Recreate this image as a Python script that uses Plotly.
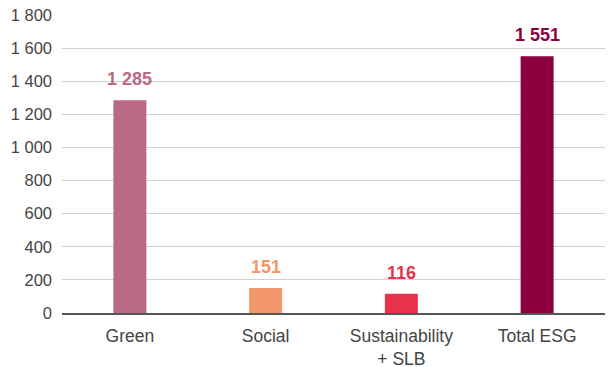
import plotly.graph_objects as go

categories = ["Green", "Social", "Sustainability<br>+ SLB", "Total ESG"]
values = [1285, 151, 116, 1551]
colors = ["#B96A83", "#F2986A", "#E8344A", "#8C0041"]
y_ticks = [0, 200, 400, 600, 800, 1000, 1200, 1400, 1600, 1800]

FONT = "Liberation Sans, Arial, Helvetica, sans-serif"

fig = go.Figure()
fig.add_trace(go.Bar(
    x=categories, y=values, marker=dict(color=colors, line=dict(width=0)),
    hoverinfo="skip",
))
for c, v, col in zip(categories, values, colors):
    fig.add_annotation(x=c, y=v, text="<b>%s</b>" % f"{v:,}".replace(",", " "),
                       showarrow=False, yanchor="bottom", yshift=9,
                       font=dict(family=FONT, size=18, color=col))

fig.update_layout(
    width=610, height=367,
    margin=dict(l=62, r=5, t=15, b=54, autoexpand=False),
    paper_bgcolor="white", plot_bgcolor="white",
    bargap=0.757, showlegend=False,
    separators=". ",
    font=dict(family=FONT, size=16, color="#444444"),
)
fig.update_yaxes(range=[0, 1800], tickvals=y_ticks, tickformat=",d",
                 showgrid=True, gridcolor="#D0D0D0", gridwidth=1,
                 zeroline=False, showline=False, ticks="", automargin=False,
                 ticklabelstandoff=9, tickfont=dict(size=16.5, color="#444444"))
fig.update_xaxes(showline=True, linecolor="#555555", linewidth=1.5,
                 ticks="", ticklabelstandoff=6, automargin=False,
                 tickfont=dict(size=17.5, color="#444444"))

fig.write_html("out.html", config={"displayModeBar": False},
               post_script="document.body.style.margin='0';")
